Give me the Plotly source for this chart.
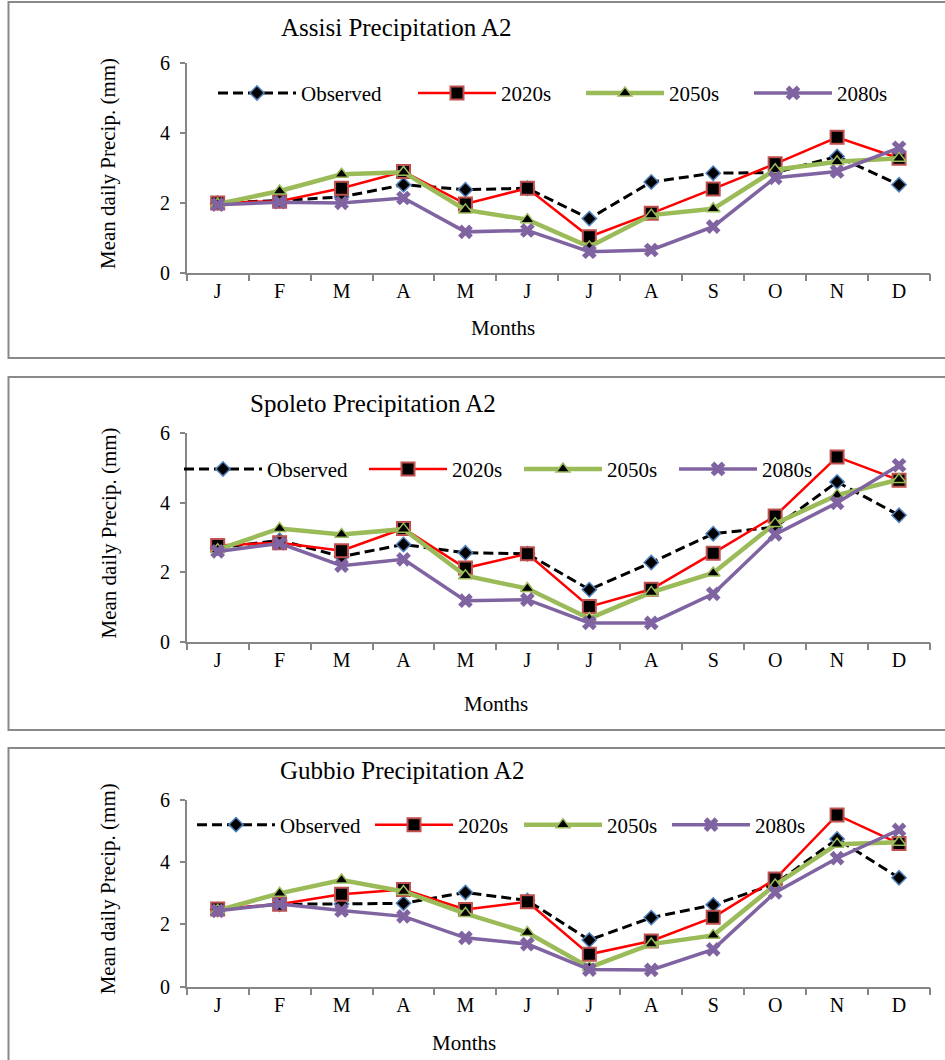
import plotly.graph_objects as go

month_names = ["Jan", "Feb", "Mar", "Apr", "May", "Jun", "Jul", "Aug", "Sep", "Oct", "Nov", "Dec"]
month_labels = ["J", "F", "M", "A", "M", "J", "J", "A", "S", "O", "N", "D"]
series_names = ["Observed", "2020s", "2050s", "2080s"]

assisi_observed = [2.0, 2.07, 2.17, 2.52, 2.38, 2.42, 1.55, 2.6, 2.85, 2.87, 3.33, 2.52]
assisi_2020s = [2.0, 2.05, 2.42, 2.9, 1.97, 2.42, 1.03, 1.7, 2.4, 3.12, 3.88, 3.28]
assisi_2050s = [1.97, 2.34, 2.82, 2.88, 1.8, 1.52, 0.74, 1.65, 1.83, 2.95, 3.18, 3.28]
assisi_2080s = [1.95, 2.02, 2.0, 2.14, 1.17, 1.21, 0.6, 0.65, 1.32, 2.72, 2.9, 3.58]

spoleto_observed = [2.7, 2.92, 2.45, 2.8, 2.56, 2.53, 1.5, 2.28, 3.11, 3.3, 4.6, 3.64]
spoleto_2020s = [2.77, 2.85, 2.62, 3.26, 2.12, 2.53, 1.01, 1.51, 2.55, 3.62, 5.32, 4.65]
spoleto_2050s = [2.65, 3.26, 3.09, 3.24, 1.9, 1.53, 0.67, 1.42, 1.98, 3.4, 4.22, 4.67]
spoleto_2080s = [2.6, 2.83, 2.19, 2.37, 1.18, 1.21, 0.54, 0.54, 1.38, 3.09, 4.0, 5.08]

gubbio_observed = [2.48, 2.65, 2.66, 2.68, 3.03, 2.77, 1.5, 2.22, 2.63, 3.3, 4.75, 3.5]
gubbio_2020s = [2.5, 2.65, 2.97, 3.12, 2.48, 2.73, 1.04, 1.47, 2.23, 3.46, 5.52, 4.6]
gubbio_2050s = [2.45, 3.0, 3.43, 3.06, 2.35, 1.74, 0.62, 1.37, 1.65, 3.27, 4.58, 4.64]
gubbio_2080s = [2.44, 2.66, 2.45, 2.26, 1.57, 1.37, 0.55, 0.54, 1.2, 3.03, 4.13, 5.04]

panel_titles = ["Assisi Precipitation A2", "Spoleto Precipitation A2", "Gubbio Precipitation A2"]
panel_data = [
    [assisi_observed, assisi_2020s, assisi_2050s, assisi_2080s],
    [spoleto_observed, spoleto_2020s, spoleto_2050s, spoleto_2080s],
    [gubbio_observed, gubbio_2020s, gubbio_2050s, gubbio_2080s],
]

W, H = 945, 1060
FONT = "Liberation Serif, Times New Roman, serif"

styles = [
    dict(line=dict(color="black", width=3, dash="10px,5px"),
         marker=dict(symbol="diamond", size=11, color="black", line=dict(color="#4f81bd", width=1.5))),
    dict(line=dict(color="#ff0000", width=2.5),
         marker=dict(symbol="square", size=13, color="black", line=dict(color="#c0504d", width=2))),
    dict(line=dict(color="#9bbb59", width=4.5),
         marker=dict(symbol="triangle-up", size=12, color="black", line=dict(color="#9bbb59", width=1.5))),
    dict(line=dict(color="#8064a2", width=3.5),
         marker=dict(symbol="x", size=13, color="#8064a2", line=dict(color="#8064a2", width=0))),
]

# plot area geometry in pixels (top-of-6, bottom-of-0)
plot_left, plot_right = 186.7, 930
plot_ys = [(63.3, 272.7), (433.3, 641.7), (800, 986.7)]
title_pos = [(396, 27), (373, 403), (402, 770)]
months_pos = [(503, 328), (496, 704), (464, 1043)]
ytitle_x = 108
legend_y = [93.3, 469.3, 825]
legend_text_x = [[301, 501, 669, 837], [267, 452, 607, 762], [280, 458, 607, 755]]
borders = [(2, 358), (377, 730), (748, 1075)]
LEG_ITEM_W = 78

fig = go.Figure()
layout = dict(width=W, height=H, margin=dict(l=0, r=0, t=0, b=0, autoexpand=False),
              paper_bgcolor="white", plot_bgcolor="white",
              font=dict(family=FONT, color="black", size=20),
              showlegend=True)
annotations = []
shapes = []

leg_idx = 0
for p in range(3):
    sfx = "" if p == 0 else str(p + 1)
    top, bot = plot_ys[p]
    layout["xaxis" + sfx] = dict(
        domain=[plot_left / W, plot_right / W], anchor="y" + sfx,
        type="category", categoryorder="array", categoryarray=month_names,
        tickmode="array", tickvals=month_names, ticktext=month_labels,
        tickson="boundaries", ticks="outside", ticklen=7, tickwidth=1.5, tickcolor="#868686",
        showline=True, linecolor="#868686", linewidth=1.5, showgrid=False, zeroline=False,
        range=[-0.5, 11.5], tickfont=dict(size=20, family=FONT, color="black"),
    )
    layout["yaxis" + sfx] = dict(
        domain=[1 - bot / H, 1 - top / H], anchor="x" + sfx,
        range=[0, 6], tickvals=[0, 2, 4, 6], ticks="outside", ticklen=5, tickwidth=1.5,
        tickcolor="#868686", showline=True, linecolor="#868686", linewidth=1.5,
        showgrid=False, zeroline=False, tickfont=dict(size=20, family=FONT, color="black"),
        ticklabelstandoff=6,
    )
    for s in range(4):
        leg_idx += 1
        lname = "legend" if leg_idx == 1 else f"legend{leg_idx}"
        fig.add_trace(go.Scatter(
            x=month_names, y=panel_data[p][s], name=series_names[s], mode="lines+markers",
            xaxis="x" + sfx, yaxis="y" + sfx, legend=lname,
            line=styles[s]["line"], marker=styles[s]["marker"], cliponaxis=False,
        ))
        layout[lname] = dict(
            x=(legend_text_x[p][s] - LEG_ITEM_W - 10) / W, xanchor="left",
            y=1 - legend_y[p] / H, yanchor="middle",
            bgcolor="rgba(0,0,0,0)", borderwidth=0, itemwidth=LEG_ITEM_W,
            font=dict(size=21, family=FONT, color="black"),
            orientation="h",
        )
    tx, ty = title_pos[p]
    annotations.append(dict(text=panel_titles[p], x=tx / W, y=1 - ty / H, xref="paper", yref="paper",
                            showarrow=False, xanchor="center", yanchor="middle",
                            font=dict(size=25, family=FONT, color="black")))
    mx, my = months_pos[p]
    annotations.append(dict(text="Months", x=mx / W, y=1 - my / H, xref="paper", yref="paper",
                            showarrow=False, xanchor="center", yanchor="middle",
                            font=dict(size=21, family=FONT, color="black")))
    annotations.append(dict(text="Mean daily Precip. (mm)", x=ytitle_x / W, y=1 - ((top + bot) / 2 - 4) / H,
                            xref="paper", yref="paper", showarrow=False, textangle=-90,
                            xanchor="center", yanchor="middle",
                            font=dict(size=21, family=FONT, color="black")))
    b0, b1 = borders[p]
    shapes.append(dict(type="rect", xref="paper", yref="paper",
                       x0=8.5 / W, x1=1.02, y0=1 - b1 / H, y1=1 - b0 / H,
                       line=dict(color="#898989", width=2), fillcolor="rgba(0,0,0,0)", layer="below"))

layout["annotations"] = annotations
layout["shapes"] = shapes
fig.update_layout(**layout)
fig.write_html("out.html", config={"displayModeBar": False},
               post_script="document.body.style.margin='0';document.body.style.overflow='hidden';")
